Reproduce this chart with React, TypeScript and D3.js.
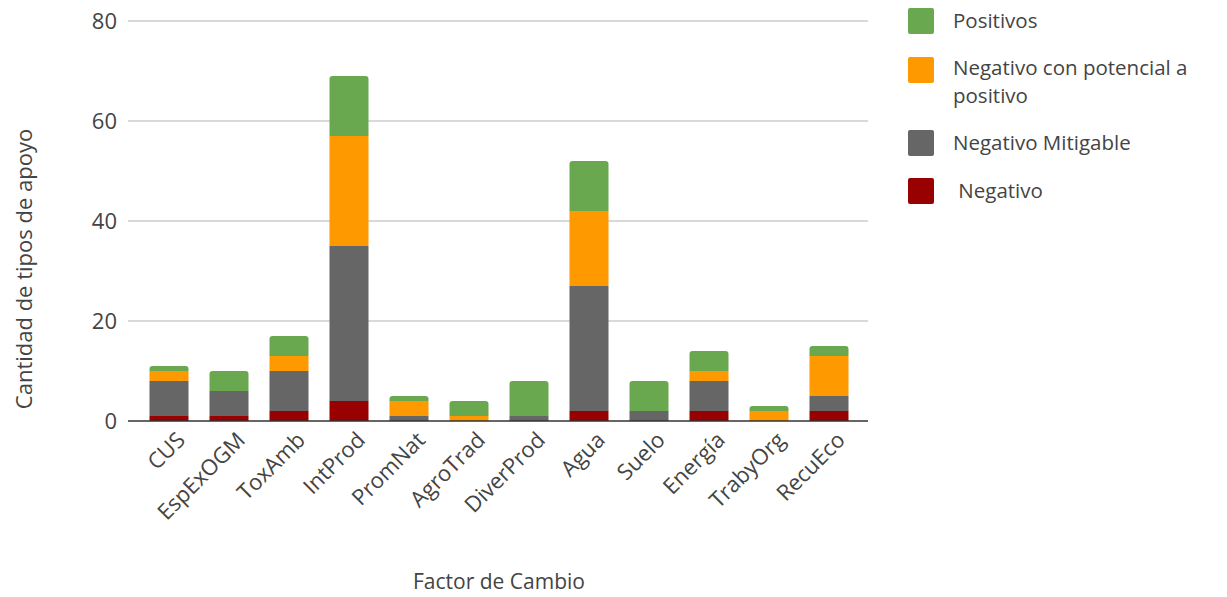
import React, { useRef, useEffect } from 'react';
import * as d3 from 'd3';

// Data
const categories = ['CUS', 'EspExOGM', 'ToxAmb', 'IntProd', 'PromNat', 'AgroTrad', 'DiverProd', 'Agua', 'Suelo', 'Energía', 'TrabyOrg', 'RecuEco'];
const negativo = [1, 1, 2, 4, 0, 0, 0, 2, 0, 2, 0, 2];
const negMitigable = [7, 5, 8, 31, 1, 0, 1, 25, 2, 6, 0, 3];
const negPotencial = [2, 0, 3, 22, 3, 1, 0, 15, 0, 2, 2, 8];
const positivos = [1, 4, 4, 12, 1, 3, 7, 10, 6, 4, 1, 2];
const yTicks = [0, 20, 40, 60, 80];

const seriesKeys = ['neg', 'mit', 'pot', 'pos'];
const seriesColors = ['#990000', '#666666', '#ff9900', '#6aa84f'];

const legendItems = [
  { label: ['Positivos'], color: '#6aa84f' },
  { label: ['Negativo con potencial a', 'positivo'], color: '#ff9900' },
  { label: ['Negativo Mitigable'], color: '#666666' },
  { label: [' Negativo'], color: '#990000' },
];

const FONT = '"Open Sans", sans-serif';
const TEXT = '#444444';

const App = () => {
  const ref = useRef<SVGSVGElement>(null);

  useEffect(() => {
    const svg = d3.select(ref.current);
    svg.selectAll('*').remove();

    const left = 128;
    const right = 868;
    const top = 21;
    const bottom = 421;

    const rows = categories.map((c, i) => ({
      cat: c,
      neg: negativo[i],
      mit: negMitigable[i],
      pot: negPotencial[i],
      pos: positivos[i],
    }));

    const x = d3.scaleBand().domain(categories).range([139, 859]).paddingInner(0.35).paddingOuter(0.175);
    const y = d3.scaleLinear().domain([0, 80]).range([bottom, top]);

    // gridlines
    svg.append('g')
      .selectAll('line')
      .data(yTicks.filter(t => t > 0))
      .enter()
      .append('line')
      .attr('x1', left)
      .attr('x2', right)
      .attr('y1', d => y(d))
      .attr('y2', d => y(d))
      .attr('stroke', '#cccccc')
      .attr('stroke-width', 1.3);

    // y tick labels
    svg.append('g')
      .selectAll('text')
      .data(yTicks)
      .enter()
      .append('text')
      .attr('x', 117)
      .attr('y', d => y(d))
      .attr('dy', '0.36em')
      .attr('text-anchor', 'end')
      .attr('font-family', FONT)
      .attr('font-size', 22)
      .attr('fill', TEXT)
      .text(d => d);

    const stack = d3.stack<any>().keys(seriesKeys);
    const layers = stack(rows);

    // topmost non-empty segment per category gets rounded corners
    const topKey = rows.map(r => {
      let k = -1;
      seriesKeys.forEach((key, i) => { if (r[key] > 0) k = i; });
      return k;
    });

    const r = 3;
    layers.forEach((layer, li) => {
      svg.append('g')
        .selectAll('path')
        .data(layer)
        .enter()
        .filter((d: any) => d[1] - d[0] > 0)
        .append('path')
        .attr('fill', seriesColors[li])
        .attr('d', (d: any) => {
          const idx = categories.indexOf(d.data.cat);
          const x0 = x(d.data.cat)!;
          const w = x.bandwidth();
          const y0 = y(d[0]);
          const y1 = y(d[1]);
          if (topKey[idx] === li) {
            return `M${x0},${y0}V${y1 + r}Q${x0},${y1} ${x0 + r},${y1}H${x0 + w - r}Q${x0 + w},${y1} ${x0 + w},${y1 + r}V${y0}Z`;
          }
          return `M${x0},${y0}V${y1}H${x0 + w}V${y0}Z`;
        });
    });

    // baseline
    svg.append('line')
      .attr('x1', left)
      .attr('x2', right)
      .attr('y1', bottom)
      .attr('y2', bottom)
      .attr('stroke', '#333333')
      .attr('stroke-width', 1.5);

    // x labels
    svg.append('g')
      .selectAll('text')
      .data(categories)
      .enter()
      .append('text')
      .attr('transform', d => `translate(${x(d)! + x.bandwidth() / 2 + 12},${436}) rotate(-45)`)
      .attr('text-anchor', 'end')
      .attr('dy', '0.35em')
      .attr('font-family', FONT)
      .attr('font-size', 22)
      .attr('fill', TEXT)
      .text(d => d);

    // axis titles
    svg.append('text')
      .attr('transform', `translate(32,${269}) rotate(-90)`)
      .attr('text-anchor', 'middle')
      .attr('font-family', FONT)
      .attr('font-size', 22)
      .attr('fill', TEXT)
      .text('Cantidad de tipos de apoyo');

    svg.append('text')
      .attr('x', 499)
      .attr('y', 589)
      .attr('text-anchor', 'middle')
      .attr('font-family', FONT)
      .attr('font-size', 21)
      .attr('fill', TEXT)
      .text('Factor de Cambio');

    // legend
    const legendY = [21, 70, 143, 191];
    const lineGap = 28;
    const lg = svg.append('g');
    legendItems.forEach((item, i) => {
      lg.append('rect')
        .attr('x', 908)
        .attr('y', legendY[i] - 13)
        .attr('width', 26)
        .attr('height', 26)
        .attr('rx', 2)
        .attr('fill', item.color);
      const startY = legendY[i] - ((item.label.length - 1) * lineGap) / 2 + (item.label.length > 1 ? 12 : 0);
      item.label.forEach((line, j) => {
        lg.append('text')
          .attr('x', 953)
          .attr('y', startY + j * lineGap)
          .attr('dy', '0.36em')
          .attr('font-family', FONT)
          .attr('font-size', 20.5)
          .attr('fill', TEXT)
          .attr('xml:space', 'preserve')
          .style('white-space', 'pre')
          .text(line);
      });
    });

    return () => {
      svg.selectAll('*').remove();
    };
  }, []);

  return (
    <div style={{ margin: -8 }}>
      <svg ref={ref} width={1227} height={597} style={{ display: 'block', background: '#fff' }} />
    </div>
  );
};

export default App;
